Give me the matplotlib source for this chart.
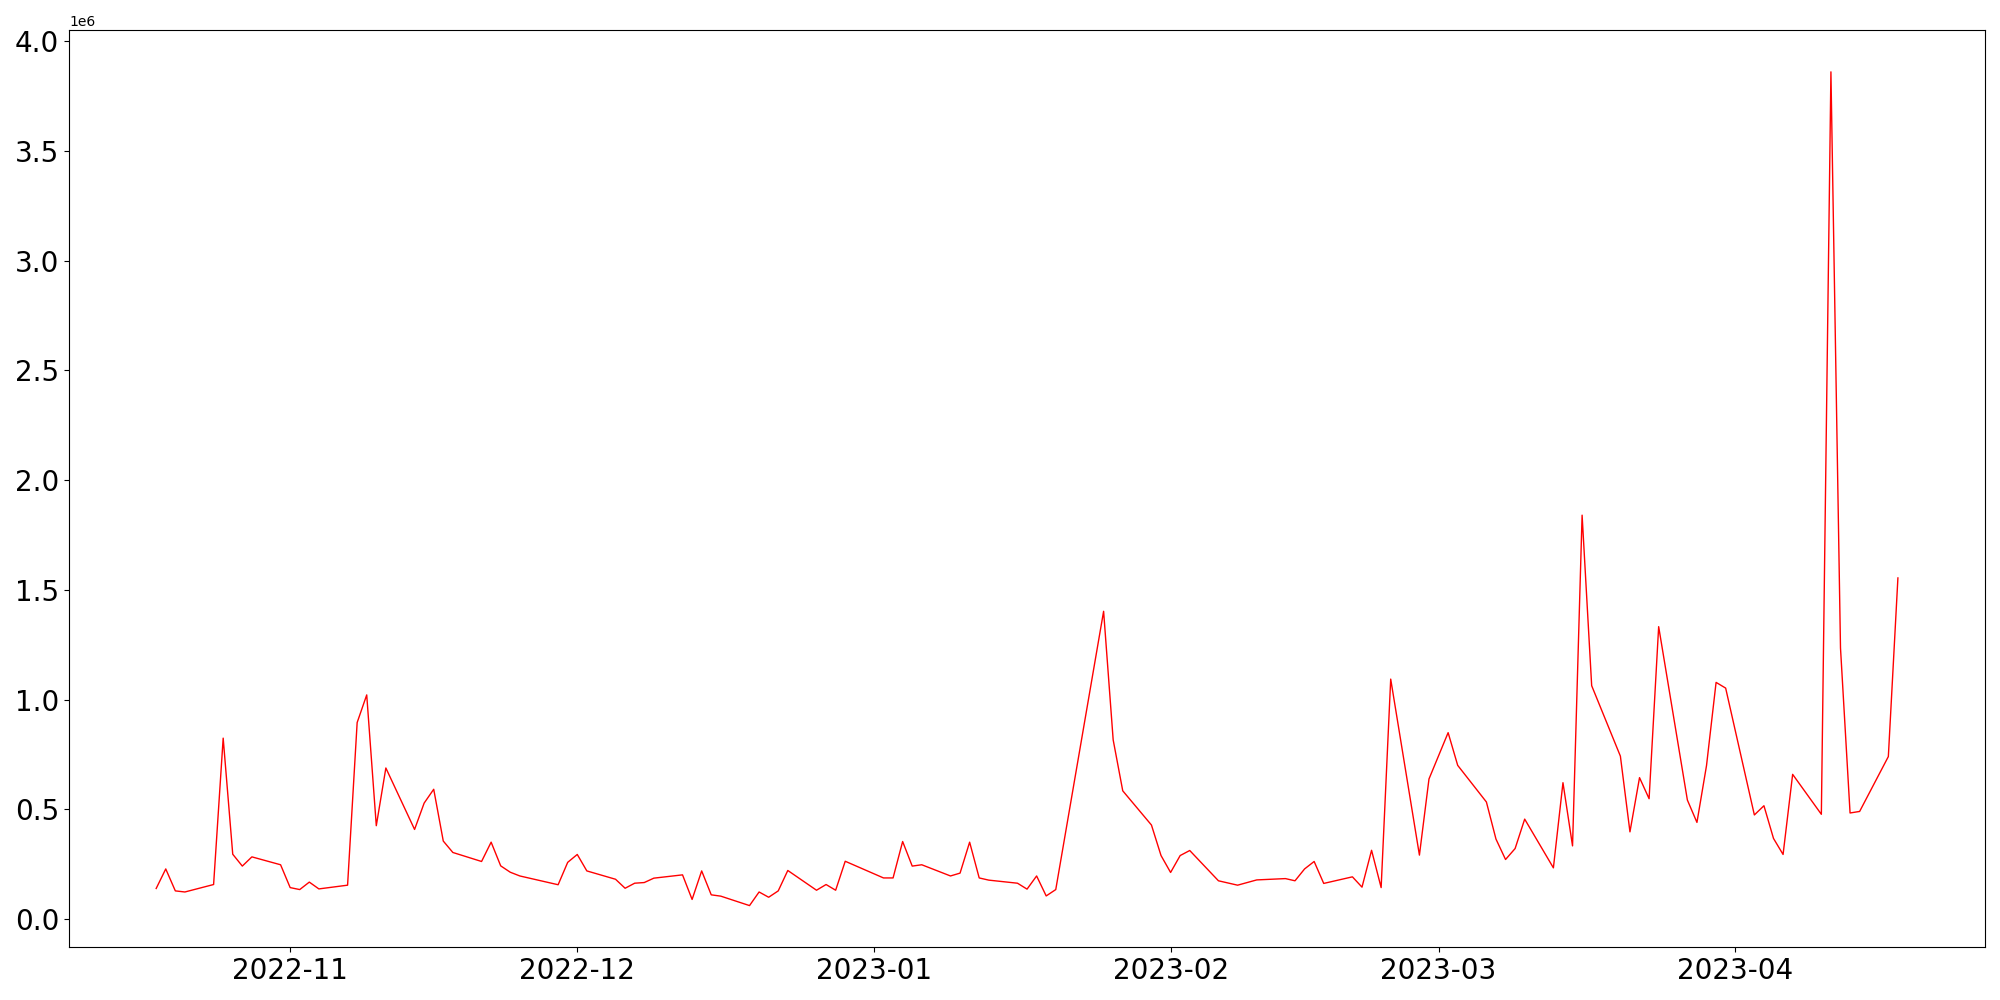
import matplotlib
matplotlib.use("Agg")
import matplotlib.pyplot as plt
import pandas as pd

# trading days, with the few days that are missing from the series
start = "2022-10-18"
end = "2023-04-18"
missing = ["2022-11-28", "2022-12-30", "2023-01-23", "2023-01-24",
           "2023-02-07", "2023-02-09", "2023-03-01"]

volumen = [
    # oct
    0.139, 0.228, 0.128, 0.123, 0.157, 0.824, 0.295, 0.241, 0.283, 0.247,
    # nov
    0.143, 0.134, 0.168, 0.137, 0.154, 0.895, 1.021, 0.425, 0.688, 0.408,
    0.528, 0.591, 0.355, 0.303, 0.262, 0.350, 0.242, 0.213, 0.196, 0.156,
    0.258,
    # dic
    0.294, 0.219, 0.181, 0.140, 0.163, 0.166, 0.186, 0.201, 0.089, 0.219,
    0.110, 0.104, 0.061, 0.123, 0.099, 0.128, 0.221, 0.131, 0.157, 0.131,
    0.263,
    # ene
    0.187, 0.187, 0.353, 0.241, 0.247, 0.196, 0.209, 0.350, 0.187, 0.177,
    0.163, 0.136, 0.196, 0.105, 0.134, 1.402, 0.816, 0.584, 0.428, 0.289,
    # feb
    0.212, 0.289, 0.312, 0.174, 0.154, 0.178, 0.184, 0.174, 0.228, 0.262,
    0.162, 0.192, 0.145, 0.313, 0.143, 1.093, 0.291, 0.638,
    # mar
    0.849, 0.700, 0.533, 0.364, 0.271, 0.321, 0.455, 0.233, 0.621, 0.333,
    1.840, 1.063, 0.742, 0.397, 0.644, 0.548, 1.332, 0.542, 0.440, 0.699,
    1.078, 1.052,
    # abr
    0.474, 0.516, 0.367, 0.294, 0.659, 0.477, 3.860, 1.235, 0.483, 0.490,
    0.740, 1.554,
]

fechas = pd.bdate_range(start, end, freq="C", holidays=missing)
serie = pd.Series([v * 1e6 for v in volumen], index=fechas)

fig, ax = plt.subplots(figsize=(20, 10), dpi=100)
ax.plot(serie.index, serie.values, color="red", linewidth=1)
ax.tick_params(labelsize=20)

fig.tight_layout()
fig.savefig("out.png", dpi=100)
plt.close()
